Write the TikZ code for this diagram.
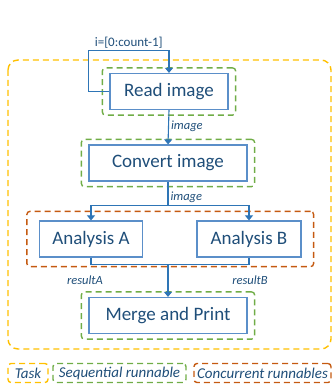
\documentclass[tikz,border=0pt]{standalone}
\usepackage{fontspec}
\setmainfont{Carlito}
\usepackage{tikz}
\usetikzlibrary{arrows.meta,calc,fit,positioning}

\definecolor{lineblue}{HTML}{2E75B6}
\definecolor{boxblue}{HTML}{5B8FC9}
\definecolor{textblue}{HTML}{1F4E79}
\definecolor{taskyellow}{HTML}{FFC000}
\definecolor{seqgreen}{HTML}{70AD47}
\definecolor{concorange}{HTML}{C55A11}

\tikzset{
  block/.style={draw=boxblue,line width=1.2pt,text=textblue,minimum height=36pt,inner sep=0pt,
    font=\fontsize{19}{22}\selectfont},
  flow/.style={draw=lineblue,line width=1.1pt,-{Triangle[width=8pt,length=5pt]}},
  link/.style={draw=lineblue,line width=1.1pt},
  dashbox/.style={line width=1.4pt,dash pattern=on 6pt off 4pt,rounded corners=3pt},
  seqbox/.style={dashbox,draw=seqgreen,inner xsep=7pt,inner ysep=5pt},
  concbox/.style={dashbox,draw=concorange,inner xsep=12pt,inner ysep=9pt},
  legend/.style={dashbox,text=textblue,minimum height=19pt,inner sep=0pt,
    font=\fontsize{15}{17}\selectfont\itshape},
  lbl/.style={text=textblue,font=\fontsize{12.5}{14}\selectfont\itshape,inner sep=2pt}
}

\begin{document}
\begin{tikzpicture}[x=1pt,y=-1pt]
  \useasboundingbox (0,0) rectangle (332,387);
  \draw[dashbox,draw=taskyellow,rounded corners=10pt] (8,60) rectangle (331,349);

  \node[block,minimum width=118pt] (read) at (169,91.5) {Read image};
  \node[block,minimum width=158pt] (conv) at (168,163) {Convert image};
  \node[block,minimum width=103pt] (anaA) at (91,239) {Analysis A};
  \node[block,minimum width=104pt] (anaB) at (249,239) {Analysis B};
  \node[block,minimum width=158pt] (merge) at (168,315.5) {Merge and Print};

  \node[seqbox,fit=(read)] (readgrp) {};
  \node[seqbox,fit=(conv)] (convgrp) {};
  \node[concbox,fit=(anaA) (anaB)] (anagrp) {};
  \node[seqbox,fit=(merge)] (mergegrp) {};

  \draw[flow] (read.west) -- ++(-21,0) |- node[pos=0.75,above,lbl,font=\fontsize{13}{15}\selectfont] {i=[0:count-1]}
    ([yshift=22pt]read.north) -- (read.north);
  \draw[flow] (read.south) -- node[lbl,right,pos=0.47] {image} (conv.north);
  \draw[link] (conv.south) -- node[lbl,right,pos=0.65] {image} ++(0,24) coordinate (split);
  \draw[flow] (split) -| (anaA.north);
  \draw[flow] (split) -| (anaB.north);
  \coordinate (join) at ($(merge.north)+(0,-32)$);
  \draw[link] (anaA.south) |- (join) -| (anaB.south);
  \draw[flow] (join) -- (merge.north);
  \node[lbl] (resA) at ([xshift=-6pt,yshift=-23pt]anaA.south) {resultA};
  \node[lbl] (resB) at ([xshift=1pt,yshift=-23pt]anaB.south) {resultB};

  \node[legend,draw=taskyellow,minimum width=40pt] (legtask) at (28,373) {Task};
  \node[legend,draw=seqgreen,minimum width=133pt] (legseq) at (119.5,373) {Sequential runnable};
  \node[legend,draw=concorange,minimum width=137pt] (legconc) at (262.5,373) {Concurrent runnables};
\end{tikzpicture}
\end{document}
